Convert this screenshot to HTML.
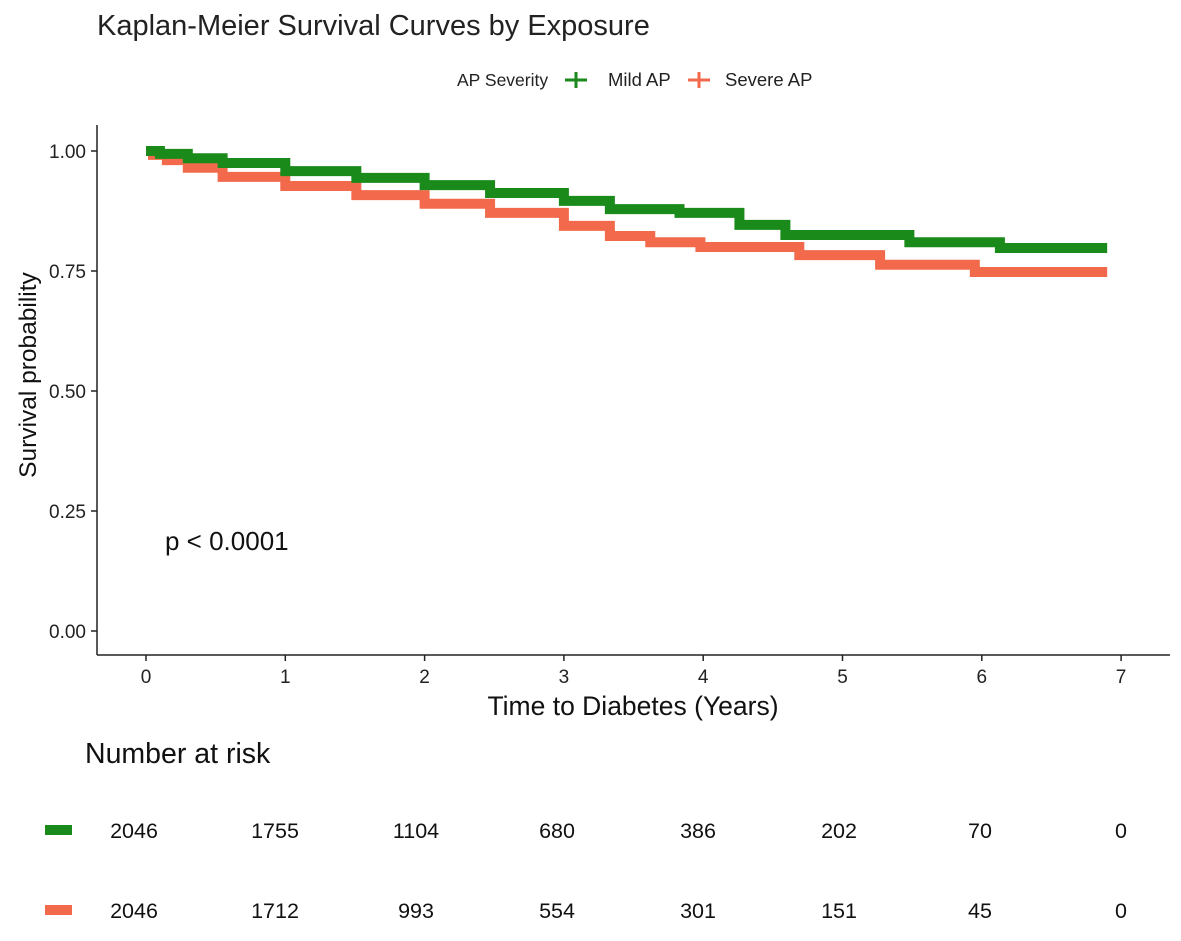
<!DOCTYPE html>
<html><head><meta charset="utf-8"><style>
body{margin:0;background:#fff;font-family:"Liberation Sans",Arial,sans-serif;}
svg text{font-family:"Liberation Sans",Arial,sans-serif;}
</style></head><body>
<svg id="c" width="1181" height="936" viewBox="0 0 1181 936" xmlns="http://www.w3.org/2000/svg">
<text x="97" y="35" font-size="29" fill="#222">Kaplan-Meier Survival Curves by Exposure</text>
<g>
<text x="457" y="86" font-size="17.5" fill="#222">AP Severity</text>
<g><line x1="565" y1="80" x2="587" y2="80" stroke="#1a8a1a" stroke-width="3"/><line x1="576" y1="72" x2="576" y2="88" stroke="#1a8a1a" stroke-width="3"/><text x="608" y="86" font-size="18.5" fill="#222">Mild AP</text></g>
<g><line x1="688" y1="80" x2="710" y2="80" stroke="#f26a4b" stroke-width="3"/><line x1="699" y1="72" x2="699" y2="88" stroke="#f26a4b" stroke-width="3"/><text x="725" y="86" font-size="18.5" fill="#222">Severe AP</text></g>
</g>
<g id="plot"></g>
<text x="165" y="550" font-size="26" fill="#111">p &lt; 0.0001</text>
<text x="633" y="715" font-size="26.5" fill="#111" text-anchor="middle">Time to Diabetes (Years)</text>
<text transform="translate(36,375) rotate(-90)" font-size="24.5" fill="#111" text-anchor="middle">Survival probability</text>
<text x="85" y="763" font-size="28.5" fill="#111">Number at risk</text>
<g id="risk"></g>
</svg>
<script>
const ticksX=[0,1,2,3,4,5,6,7];
const ticksY=[0,0.25,0.5,0.75,1];
const mildT=[0,0.1,0.3,0.55,1,1.51,2,2.47,3,3.33,3.83,4.26,4.59,5.48,6.13,6.9];
const mildS=[1,0.994,0.985,0.975,0.958,0.944,0.929,0.9125,0.896,0.879,0.871,0.846,0.825,0.810,0.798,0.798];
const sevT=[0,0.05,0.15,0.3,0.55,1,1.51,2,2.47,3,3.33,3.62,3.98,4.69,5.27,5.95,6.9];
const sevS=[1,0.992,0.981,0.965,0.946,0.927,0.908,0.890,0.871,0.844,0.823,0.810,0.800,0.783,0.763,0.748,0.748];
const riskMild=[2046,1755,1104,680,386,202,70,0];
const riskSev=[2046,1712,993,554,301,151,45,0];
const NS="http://www.w3.org/2000/svg";
const X=t=>146+t*139.3, Y=v=>631-v*480, RX=t=>134+t*141;
function mk(tag,attrs,parent){const e=document.createElementNS(NS,tag);for(const k in attrs)e.setAttribute(k,attrs[k]);parent.appendChild(e);return e;}
const plot=document.getElementById('plot');
mk('line',{x1:97,y1:125,x2:97,y2:655,stroke:'#222','stroke-width':1.5},plot);
mk('line',{x1:97,y1:655,x2:1170,y2:655,stroke:'#222','stroke-width':1.5},plot);
ticksX.forEach(t=>{
 const l=mk('line',{x1:X(t),y1:655,x2:X(t),y2:661,stroke:'#222','stroke-width':1.5},plot);
 
 
 const tx=mk('text',{x:X(t),y:683,'font-size':19,fill:'#222','text-anchor':'middle'},plot);tx.textContent=t;
 
 
});
ticksY.forEach(v=>{
 const l=mk('line',{x1:91,y1:Y(v),x2:97,y2:Y(v),stroke:'#222','stroke-width':1.5},plot);
 
 
 const tx=mk('text',{x:86,y:Y(v)+7,'font-size':19,fill:'#222','text-anchor':'end'},plot);tx.textContent=v.toFixed(2);
 
 
});
function curve(T,S,col,name){
 let d='M'+X(T[0])+','+Y(S[0]);
 for(let i=1;i<T.length;i++){d+=' H'+X(T[i])+' V'+Y(S[i]);}
 const p=mk('path',{d:d,fill:'none',stroke:col,'stroke-width':10},plot);
 
 
}
curve(sevT,sevS,'#f26a4b','severe-ap-curve');
curve(mildT,mildS,'#1a8a1a','mild-ap-curve');
const risk=document.getElementById('risk');
[[riskMild,'#1a8a1a',830,'mild'],[riskSev,'#f26a4b',910,'severe']].forEach(([arr,col,y,n])=>{
 const r=mk('rect',{x:45,y:y-5,width:27,height:10,fill:col},risk);
 
 
 arr.forEach((v,i)=>{
  const tx=mk('text',{x:RX(ticksX[i]),y:y+8,'font-size':21.5,fill:'#111','text-anchor':'middle'},risk);tx.textContent=v;
  
  
 });
});
</script>
</body></html>
